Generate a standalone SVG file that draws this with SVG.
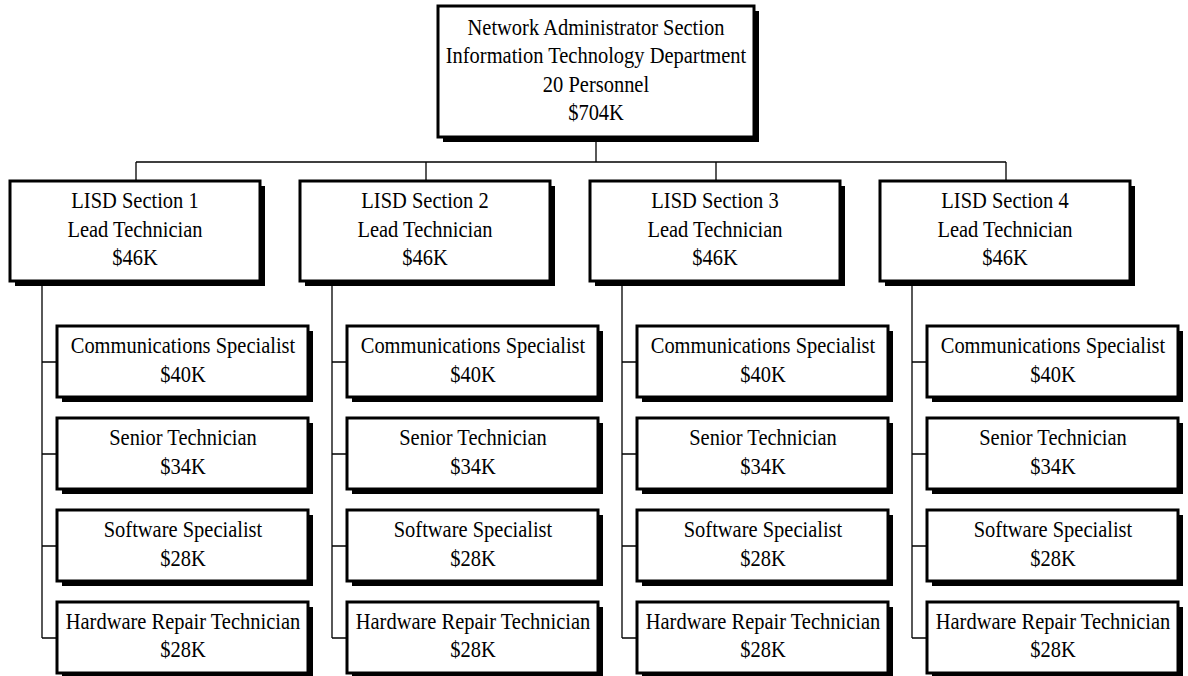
<svg xmlns="http://www.w3.org/2000/svg" width="1188" height="676" viewBox="0 0 1188 676">
  <style>
    .box { fill: #fff; stroke: #000; stroke-width: 3; }
    .shadow { fill: #000; }
    .link { fill: none; stroke: #000; stroke-width: 1.3; }
    text { font-family: "Liberation Serif", "Times New Roman", serif; font-size: 23px; fill: #000; text-anchor: middle;
           transform-box: fill-box; transform-origin: center; transform: scaleX(0.89); }
  </style>
  <defs>
    <!-- boxes are drawn with a solid offset shadow behind them -->
    <g id="secBox">
      <rect class="shadow" x="5" y="5" width="250" height="100"/>
      <rect class="box" x="0" y="0" width="250" height="100"/>
    </g>
    <g id="subBox">
      <rect class="shadow" x="5" y="5" width="251" height="71"/>
      <rect class="box" x="0" y="0" width="251" height="71"/>
    </g>
  </defs>
  <rect width="1188" height="676" fill="#fff"/>

  <!-- connectors -->
  <g id="connectors">
    <path class="link" d="M596 137 V162 M136 162 H1006 M136 162 V180 M426 162 V180 M716 162 V180 M1006 162 V180"/>
    <path class="link" d="M42 281 V638 M42 362 H57 M42 454 H57 M42 546 H57 M42 638 H57"/>
    <path class="link" d="M332 281 V638 M332 362 H347 M332 454 H347 M332 546 H347 M332 638 H347"/>
    <path class="link" d="M622 281 V638 M622 362 H637 M622 454 H637 M622 546 H637 M622 638 H637"/>
    <path class="link" d="M912 281 V638 M912 362 H927 M912 454 H927 M912 546 H927 M912 638 H927"/>
  </g>

  <!-- head of the section -->
  <g id="admin">
    <rect class="shadow" x="443" y="11" width="316" height="131"/>
    <rect class="box" x="438" y="6" width="316" height="131"/>
    <text x="596" y="35">Network Administrator Section</text>
    <text x="596" y="63">Information Technology Department</text>
    <text x="596" y="92">20 Personnel</text>
    <text x="596" y="120">$704K</text>
  </g>

  <!-- LISD section 1 -->
  <g id="lisd1">
    <use href="#secBox" x="10" y="181"/>
    <text x="135" y="208">LISD Section 1</text>
    <text x="135" y="237">Lead Technician</text>
    <text x="135" y="265">$46K</text>
  </g>
  <g id="lisd1-comm">
    <use href="#subBox" x="57" y="326"/>
    <text x="183" y="353">Communications Specialist</text>
    <text x="183" y="382">$40K</text>
  </g>
  <g id="lisd1-senior">
    <use href="#subBox" x="57" y="418"/>
    <text x="183" y="445">Senior Technician</text>
    <text x="183" y="474">$34K</text>
  </g>
  <g id="lisd1-software">
    <use href="#subBox" x="57" y="510"/>
    <text x="183" y="537">Software Specialist</text>
    <text x="183" y="566">$28K</text>
  </g>
  <g id="lisd1-hardware">
    <use href="#subBox" x="57" y="602"/>
    <text x="183" y="629">Hardware Repair Technician</text>
    <text x="183" y="657">$28K</text>
  </g>

  <!-- LISD section 2 -->
  <g id="lisd2">
    <use href="#secBox" x="300" y="181"/>
    <text x="425" y="208">LISD Section 2</text>
    <text x="425" y="237">Lead Technician</text>
    <text x="425" y="265">$46K</text>
  </g>
  <g id="lisd2-comm">
    <use href="#subBox" x="347" y="326"/>
    <text x="473" y="353">Communications Specialist</text>
    <text x="473" y="382">$40K</text>
  </g>
  <g id="lisd2-senior">
    <use href="#subBox" x="347" y="418"/>
    <text x="473" y="445">Senior Technician</text>
    <text x="473" y="474">$34K</text>
  </g>
  <g id="lisd2-software">
    <use href="#subBox" x="347" y="510"/>
    <text x="473" y="537">Software Specialist</text>
    <text x="473" y="566">$28K</text>
  </g>
  <g id="lisd2-hardware">
    <use href="#subBox" x="347" y="602"/>
    <text x="473" y="629">Hardware Repair Technician</text>
    <text x="473" y="657">$28K</text>
  </g>

  <!-- LISD section 3 -->
  <g id="lisd3">
    <use href="#secBox" x="590" y="181"/>
    <text x="715" y="208">LISD Section 3</text>
    <text x="715" y="237">Lead Technician</text>
    <text x="715" y="265">$46K</text>
  </g>
  <g id="lisd3-comm">
    <use href="#subBox" x="637" y="326"/>
    <text x="763" y="353">Communications Specialist</text>
    <text x="763" y="382">$40K</text>
  </g>
  <g id="lisd3-senior">
    <use href="#subBox" x="637" y="418"/>
    <text x="763" y="445">Senior Technician</text>
    <text x="763" y="474">$34K</text>
  </g>
  <g id="lisd3-software">
    <use href="#subBox" x="637" y="510"/>
    <text x="763" y="537">Software Specialist</text>
    <text x="763" y="566">$28K</text>
  </g>
  <g id="lisd3-hardware">
    <use href="#subBox" x="637" y="602"/>
    <text x="763" y="629">Hardware Repair Technician</text>
    <text x="763" y="657">$28K</text>
  </g>

  <!-- LISD section 4 -->
  <g id="lisd4">
    <use href="#secBox" x="880" y="181"/>
    <text x="1005" y="208">LISD Section 4</text>
    <text x="1005" y="237">Lead Technician</text>
    <text x="1005" y="265">$46K</text>
  </g>
  <g id="lisd4-comm">
    <use href="#subBox" x="927" y="326"/>
    <text x="1053" y="353">Communications Specialist</text>
    <text x="1053" y="382">$40K</text>
  </g>
  <g id="lisd4-senior">
    <use href="#subBox" x="927" y="418"/>
    <text x="1053" y="445">Senior Technician</text>
    <text x="1053" y="474">$34K</text>
  </g>
  <g id="lisd4-software">
    <use href="#subBox" x="927" y="510"/>
    <text x="1053" y="537">Software Specialist</text>
    <text x="1053" y="566">$28K</text>
  </g>
  <g id="lisd4-hardware">
    <use href="#subBox" x="927" y="602"/>
    <text x="1053" y="629">Hardware Repair Technician</text>
    <text x="1053" y="657">$28K</text>
  </g>
</svg>
